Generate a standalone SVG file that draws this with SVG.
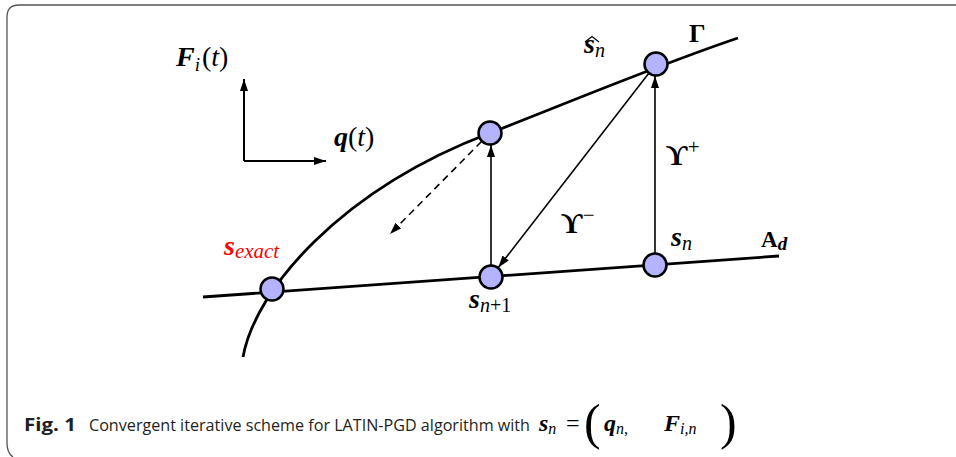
<svg xmlns="http://www.w3.org/2000/svg" width="956" height="457" viewBox="0 0 956 457">
<style>
.m{font-family:"Liberation Serif","Times New Roman",serif;fill:#000}
.bi{font-weight:bold;font-style:italic}
.it{font-style:italic}
.b{font-weight:bold}
.node{fill:#b3b3ff;stroke:#000;stroke-width:2.5}
.thick{fill:none;stroke:#000;stroke-width:2.8}
.arr{fill:none;stroke:#000;stroke-width:1.6}
.ax{fill:none;stroke:#000;stroke-width:2}
.cap{font-family:"Open Sans","Noto Sans",sans-serif;font-size:17px;fill:#231f20}
</style>
<defs>
<marker id="ah" viewBox="0 0 12 8" refX="12" refY="4" markerWidth="12" markerHeight="8" orient="auto" markerUnits="userSpaceOnUse"><path d="M0,0 L12,4 L0,8 Z" fill="#000"/></marker>
</defs>
<path d="M956,5 H19 Q7,5 7,17 V443 Q7,453 13,457" fill="none" stroke="#555" stroke-width="1.3"/>
<g id="curves">
<path id="gamma" class="thick" d="M243,357 C255,290 340,190 490,133 C560,106 655,66 738,38"/>
<path id="ad" class="thick" d="M203,297 L779,256"/>
</g>
<g id="connectors">
<path class="ax" d="M244,161 V79" marker-end="url(#ah)"/>
<path class="ax" d="M244,161 H326" marker-end="url(#ah)"/>
<path class="arr" d="M491,266 V145" marker-end="url(#ah)"/>
<path class="arr" d="M655,254 V76" marker-end="url(#ah)"/>
<path class="arr" d="M648.6,73.5 L498.3,267.5" marker-end="url(#ah)"/>
<path class="arr" d="M481.5,141.5 L390,234" stroke-dasharray="7,5" marker-end="url(#ah)"/>
</g>
<g id="n-exact"><circle class="node" cx="272" cy="289" r="11.5"/></g>
<g id="n-sn1"><circle class="node" cx="491" cy="277" r="11.5"/></g>
<g id="n-sn"><circle class="node" cx="655" cy="265" r="11.5"/></g>
<g id="n-mid"><circle class="node" cx="490" cy="133" r="11.5"/></g>
<g id="n-hat"><circle class="node" cx="656" cy="64" r="11.5"/></g>
<g id="labels">
<text class="m" x="176" y="66" font-size="28"><tspan class="bi">F</tspan><tspan class="it" font-size="19" dy="5">i</tspan><tspan dy="-5" dx="2">(</tspan><tspan class="it">t</tspan>)</text>
<text class="m" x="334" y="146" font-size="28"><tspan class="bi">q</tspan>(<tspan class="it">t</tspan>)</text>
<text class="m" x="584" y="53" font-size="28"><tspan class="bi">s</tspan><tspan class="it" font-size="20" dy="4">n</tspan></text>
<path d="M585,42 L592,36.5 L599,42" fill="none" stroke="#000" stroke-width="1.2"/>
<text class="m b" x="689" y="42" font-size="26">Γ</text>
<text class="m b" x="666" y="165" font-size="30">ϒ<tspan font-size="21" dy="-11" font-weight="normal">+</tspan></text>
<text class="m b" x="561" y="233" font-size="30">ϒ<tspan font-size="21" dy="-11" font-weight="normal">−</tspan></text>
<text class="m" x="671" y="246" font-size="28"><tspan class="bi">s</tspan><tspan class="it" font-size="20" dy="4">n</tspan></text>
<text class="m" x="761" y="247" font-size="23"><tspan class="b">A</tspan><tspan class="bi" font-size="19" dy="3">d</tspan></text>
<text class="m" x="224" y="255" font-size="28" style="fill:#ff0000"><tspan class="bi">s</tspan><tspan class="it" font-size="21" dy="3">exact</tspan></text>
<text class="m" x="469" y="308" font-size="28"><tspan class="bi">s</tspan><tspan class="it" font-size="20" dy="4">n</tspan><tspan font-size="20">+1</tspan></text>
</g>
<g id="caption">
<text class="cap" x="24" y="431" font-weight="bold" textLength="52" lengthAdjust="spacingAndGlyphs">Fig. 1</text>
<text class="cap" x="89" y="431" textLength="441" lengthAdjust="spacingAndGlyphs">Convergent iterative scheme for LATIN-PGD algorithm with</text>
<text class="m" x="539" y="431" font-size="24"><tspan class="bi">s</tspan><tspan class="it" font-size="16" dy="3">n</tspan></text>
<text class="m" x="566" y="431" font-size="24">=</text>
<text class="m" x="584" y="439" font-size="50">(</text>
<text class="m" x="604" y="431" font-size="24"><tspan class="bi">q</tspan><tspan class="it" font-size="16" dy="3">n</tspan><tspan font-size="16">,</tspan></text>
<text class="m" x="664" y="431" font-size="24"><tspan class="bi">F</tspan><tspan class="it" font-size="16" dy="3">i,n</tspan></text>
<text class="m" x="720" y="439" font-size="50">)</text>
</g>
</svg>
